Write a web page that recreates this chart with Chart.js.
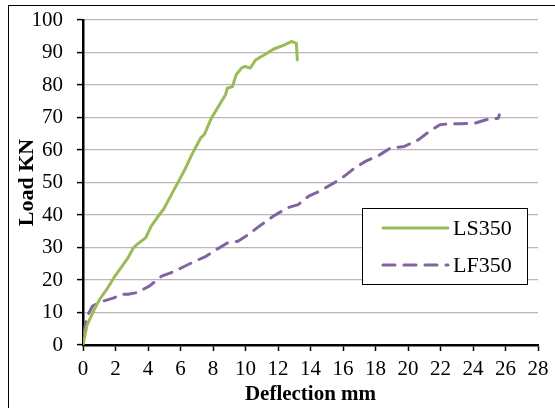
<!DOCTYPE html>
<html>
<head>
<meta charset="utf-8">
<script src="https://cdn.jsdelivr.net/npm/chart.js@4.4.1/dist/chart.umd.min.js"></script>
<style>
  html, body { margin: 0; padding: 0; background: #fff; }
  #wrap { position: relative; width: 555px; height: 408px; }
</style>
</head>
<body>
<div id="wrap"><canvas id="loadChart" width="555" height="408"></canvas></div>
<script>
// Load vs deflection readings for the two beams
var lsDeflection = [0, 0.26, 0.7, 1.02, 1.46, 1.9, 2.33, 2.77, 3.1, 3.31, 3.86, 4.19, 4.62, 4.95, 5.39, 5.82, 6.26, 6.69, 7.02, 7.24, 7.46, 7.9, 8.33, 8.77, 8.88, 9.2, 9.42, 9.75, 9.97, 10.29, 10.62, 10.95, 11.17, 11.71, 12.37, 12.85, 13.13, 13.19];
var lsLoad       = [0, 6.3, 11, 14, 17.1, 20.7, 23.7, 26.8, 29.9, 30.9, 33, 36.5, 39.6, 41.7, 45.8, 49.8, 53.9, 58.5, 61.6, 63.7, 64.7, 69.8, 73.4, 77, 79, 79.5, 83.1, 85.2, 85.7, 85.2, 87.7, 88.7, 89.3, 91, 92.3, 93.4, 92.8, 87.7];

var lfDeflection = [0.05, 0.22, 0.59, 1.24, 1.9, 2.33, 2.77, 3.31, 4.08, 4.84, 5.39, 6.04, 6.69, 7.57, 8.22, 8.88, 9.53, 10.18, 10.83, 11.7, 12.58, 13.24, 13.89, 14.55, 15.42, 16.07, 16.73, 17.38, 18.26, 18.91, 19.78, 20.66, 21.31, 21.97, 22.62, 23.27, 24.15, 24.8, 25.56, 25.62];
var lfLoad       = [3.5, 8.5, 12, 13.5, 14.5, 15.6, 15.6, 16.1, 18.1, 21.2, 22.2, 23.7, 25.3, 27.3, 29.4, 31.4, 31.9, 34, 36.5, 39.6, 42.2, 43.2, 45.8, 47.3, 49.8, 51.9, 54.5, 56.5, 58.5, 60.6, 61.1, 63.2, 65.7, 67.8, 68.1, 68.1, 68.3, 69.3, 69.8, 70.8];

var seriesNames = ['LS350', 'LF350'];
var xTicks = [0, 2, 4, 6, 8, 10, 12, 14, 16, 18, 20, 22, 24, 26, 28];
var yTicks = [0, 10, 20, 30, 40, 50, 60, 70, 80, 90, 100];

var GREEN = '#9bbb59';
var PURPLE = '#8064a2';
var SERIF = '"Liberation Serif", "Times New Roman", serif';

function toPoints(xs, ys){
    var pts = [];
    for (var i = 0; i < xs.length; i++) pts.push({ x: xs[i], y: ys[i] });
    return pts;
}

// white page with the thin outer frame
var framePlugin = {
    id: 'frame',
    beforeDraw: function(chart){
        var ctx = chart.ctx;
        ctx.save();
        ctx.fillStyle = '#fff';
        ctx.fillRect(0, 0, chart.width, chart.height);
        ctx.strokeStyle = '#000';
        ctx.lineWidth = 1;
        ctx.strokeRect(8.5, 5.5, 700, 600);
        ctx.restore();
    }
};

// boxed legend sitting inside the plot area
var boxLegend = {
    id: 'boxLegend',
    afterDraw: function(chart){
        var ctx = chart.ctx;
        var x0 = 362, y0 = 208, w = 165, h = 76;
        ctx.save();
        ctx.fillStyle = '#fff';
        ctx.fillRect(x0, y0, w, h);
        ctx.strokeStyle = '#000';
        ctx.lineWidth = 1;
        ctx.strokeRect(x0 + 0.5, y0 + 0.5, w, h);
        var rows = [228, 265];
        chart.data.datasets.forEach(function(ds, i){
            ctx.beginPath();
            ctx.strokeStyle = ds.borderColor;
            ctx.lineWidth = ds.borderWidth;
            ctx.lineCap = 'round';
            ctx.setLineDash(ds.borderDash || []);
            ctx.moveTo(383, rows[i]);
            ctx.lineTo(448, rows[i]);
            ctx.stroke();
            ctx.setLineDash([]);
            ctx.fillStyle = '#000';
            ctx.font = '22px ' + SERIF;
            ctx.textBaseline = 'middle';
            ctx.textAlign = 'left';
            ctx.fillText(ds.label, 453, rows[i] + 1);
        });
        ctx.restore();
    }
};

var ctx = document.getElementById('loadChart').getContext('2d');
new Chart(ctx, {
    type: 'scatter',
    data: {
        datasets: [
            {
                label: seriesNames[0],
                data: toPoints(lsDeflection, lsLoad),
                showLine: true,
                borderColor: GREEN,
                backgroundColor: GREEN,
                borderWidth: 3,
                pointRadius: 0,
                tension: 0,
                borderCapStyle: 'round',
                borderJoinStyle: 'round'
            },
            {
                label: seriesNames[1],
                data: toPoints(lfDeflection, lfLoad),
                showLine: true,
                borderColor: PURPLE,
                backgroundColor: PURPLE,
                borderWidth: 3,
                borderDash: [12, 9],
                pointRadius: 0,
                tension: 0,
                borderCapStyle: 'round',
                borderJoinStyle: 'round'
            }
        ]
    },
    options: {
        responsive: false,
        animation: false,
        layout: { padding: { left: 0, right: 17, top: 20, bottom: 0 } },
        plugins: {
            legend: { display: false },
            tooltip: { enabled: false }
        },
        scales: {
            x: {
                type: 'linear',
                min: 0, max: 28,
                afterFit: function(scale){
                    scale.height = 63;
                    scale.paddingLeft = 0;
                    scale.paddingRight = 0;
                },
                afterBuildTicks: function(scale){
                    scale.ticks = xTicks.map(function(v){ return { value: v }; });
                },
                grid: { display: true, drawOnChartArea: false, tickLength: 6, tickColor: '#000', tickWidth: 1.5 },
                border: { color: '#000', width: 2.5 },
                ticks: { color: '#000', padding: 6, maxRotation: 0, autoSkip: false, font: { family: SERIF, size: 21 } },
                title: {
                    display: true, text: 'Deflection mm', color: '#000',
                    padding: { top: 0, bottom: 1 },
                    font: { family: SERIF, size: 21, weight: 'bold' }
                }
            },
            y: {
                type: 'linear',
                min: 0, max: 100,
                afterFit: function(scale){
                    // keep the plot edges fixed instead of padding for the tick text
                    scale.width = 83;
                    scale.paddingTop = 0;
                    scale.paddingBottom = 0;
                },
                afterBuildTicks: function(scale){
                    scale.ticks = yTicks.map(function(v){ return { value: v }; });
                },
                grid: { color: '#b8b8b8', lineWidth: 1.2, tickLength: 6, tickColor: '#000', tickWidth: 1.5 },
                border: { color: '#000', width: 2.5 },
                ticks: { color: '#000', padding: 14, autoSkip: false, font: { family: SERIF, size: 21 } },
                title: {
                    display: true, text: 'Load KN', color: '#000',
                    padding: { top: 14, bottom: 0 },
                    font: { family: SERIF, size: 22, weight: 'bold' }
                }
            }
        }
    },
    plugins: [framePlugin, boxLegend]
});
</script>
</body>
</html>
